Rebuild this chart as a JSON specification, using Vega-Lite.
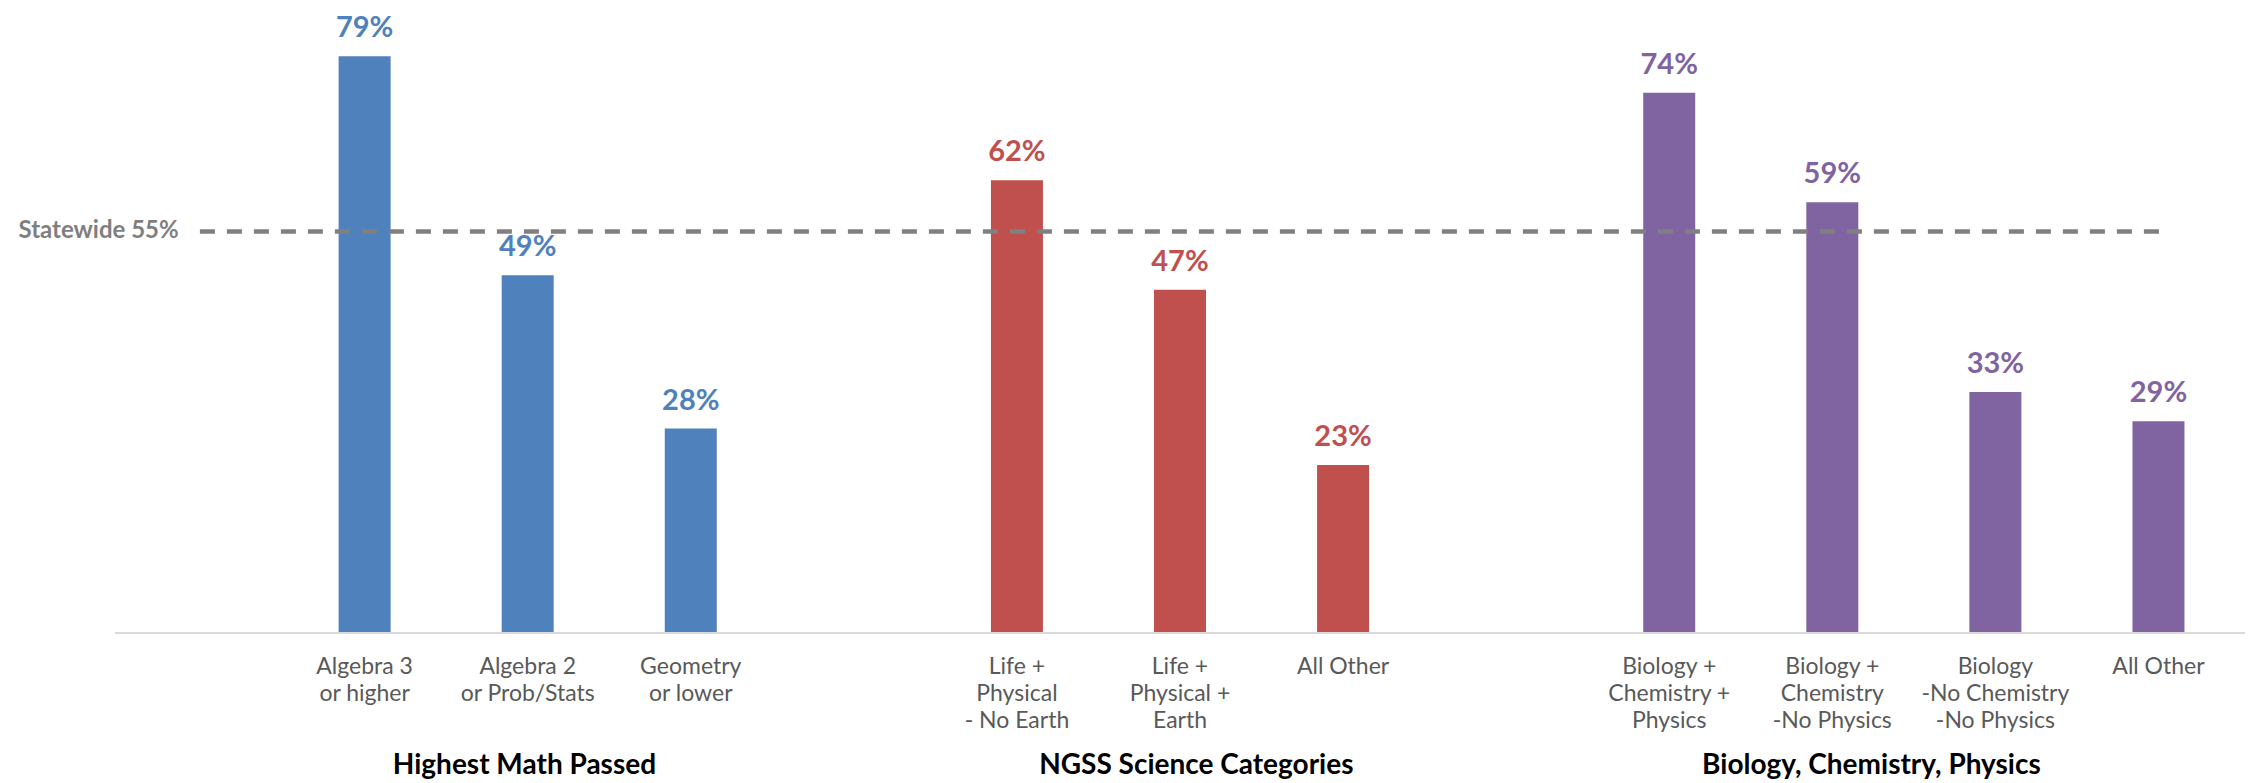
{
  "$schema": "https://vega.github.io/schema/vega-lite/v6.json",
  "width": 2130,
  "height": 633,
  "autosize": {"type": "none"},
  "padding": {"left": 115, "right": 7, "top": 0, "bottom": 150},
  "background": "white",
  "config": {"view": {"stroke": null}, "font": "Lato"},
  "datasets": {
    "bars": [
      {"slot": 1.5, "label": "Algebra 3|or higher", "value": 79, "pct": "79%", "group": "Highest Math Passed"},
      {"slot": 2.5, "label": "Algebra 2|or Prob/Stats", "value": 49, "pct": "49%", "group": "Highest Math Passed"},
      {"slot": 3.5, "label": "Geometry|or lower", "value": 28, "pct": "28%", "group": "Highest Math Passed"},
      {"slot": 5.5, "label": "Life +|Physical|- No Earth", "value": 62, "pct": "62%", "group": "NGSS Science Categories"},
      {"slot": 6.5, "label": "Life +|Physical +|Earth", "value": 47, "pct": "47%", "group": "NGSS Science Categories"},
      {"slot": 7.5, "label": "All Other", "value": 23, "pct": "23%", "group": "NGSS Science Categories"},
      {"slot": 9.5, "label": "Biology +|Chemistry +|Physics", "value": 74, "pct": "74%", "group": "Biology, Chemistry, Physics"},
      {"slot": 10.5, "label": "Biology +|Chemistry|-No Physics", "value": 59, "pct": "59%", "group": "Biology, Chemistry, Physics"},
      {"slot": 11.5, "label": "Biology|-No Chemistry|-No Physics", "value": 33, "pct": "33%", "group": "Biology, Chemistry, Physics"},
      {"slot": 12.5, "label": "All Other", "value": 29, "pct": "29%", "group": "Biology, Chemistry, Physics"}
    ],
    "titles": [
      {"pos": 2.48, "title": "Highest Math Passed"},
      {"pos": 6.6, "title": "NGSS Science Categories"},
      {"pos": 10.74, "title": "Biology, Chemistry, Physics"}
    ],
    "statewide": [
      {"x1": 0.49, "x2": 12.53, "value": 55, "label": "Statewide 55%", "lx": 0.36}
    ]
  },
  "layer": [
    {
      "data": {"name": "bars"},
      "mark": {"type": "bar", "size": 52},
      "encoding": {
        "x": {"field": "slot", "type": "quantitative", "scale": {"domain": [0, 13], "nice": false, "zero": false}, "axis": null},
        "y": {"field": "value", "type": "quantitative", "scale": {"domain": [0, 86.7], "nice": false}, "axis": null},
        "color": {"field": "group", "type": "nominal", "legend": null,
          "scale": {"domain": ["Highest Math Passed", "NGSS Science Categories", "Biology, Chemistry, Physics"], "range": ["#4F81BD", "#C0504D", "#8064A2"]}}
      }
    },
    {
      "data": {"name": "bars"},
      "mark": {"type": "text", "fontSize": 29, "fontWeight": "bold", "baseline": "alphabetic", "dy": -19},
      "encoding": {
        "x": {"field": "slot", "type": "quantitative"},
        "y": {"field": "value", "type": "quantitative"},
        "text": {"field": "pct"},
        "color": {"field": "group", "type": "nominal", "legend": null}
      }
    },
    {
      "data": {"name": "bars"},
      "mark": {"type": "text", "fontSize": 23, "color": "#595959", "baseline": "alphabetic", "dy": 41, "lineBreak": "|", "lineHeight": 27},
      "encoding": {
        "x": {"field": "slot", "type": "quantitative"},
        "y": {"datum": 0},
        "text": {"field": "label"}
      }
    },
    {
      "data": {"name": "titles"},
      "mark": {"type": "text", "fontSize": 28, "fontWeight": "bold", "color": "#000000", "baseline": "alphabetic", "dy": 141},
      "encoding": {
        "x": {"field": "pos", "type": "quantitative"},
        "y": {"datum": 0},
        "text": {"field": "title"}
      }
    },
    {
      "data": {"name": "statewide"},
      "mark": {"type": "rule", "color": "#808080", "strokeWidth": 4.5, "strokeDash": [15, 12]},
      "encoding": {
        "x": {"field": "x1", "type": "quantitative"},
        "x2": {"field": "x2"},
        "y": {"field": "value", "type": "quantitative"}
      }
    },
    {
      "data": {"name": "statewide"},
      "mark": {"type": "text", "fontSize": 24, "fontWeight": "bold", "color": "#7F7F7F", "align": "right", "baseline": "middle"},
      "encoding": {
        "x": {"field": "lx", "type": "quantitative"},
        "y": {"field": "value", "type": "quantitative"},
        "text": {"field": "label"}
      }
    },
    {
      "data": {"values": [{"v": 0}]},
      "mark": {"type": "rule", "color": "#D9D9D9", "strokeWidth": 2},
      "encoding": {"y": {"field": "v", "type": "quantitative"}}
    }
  ]
}
